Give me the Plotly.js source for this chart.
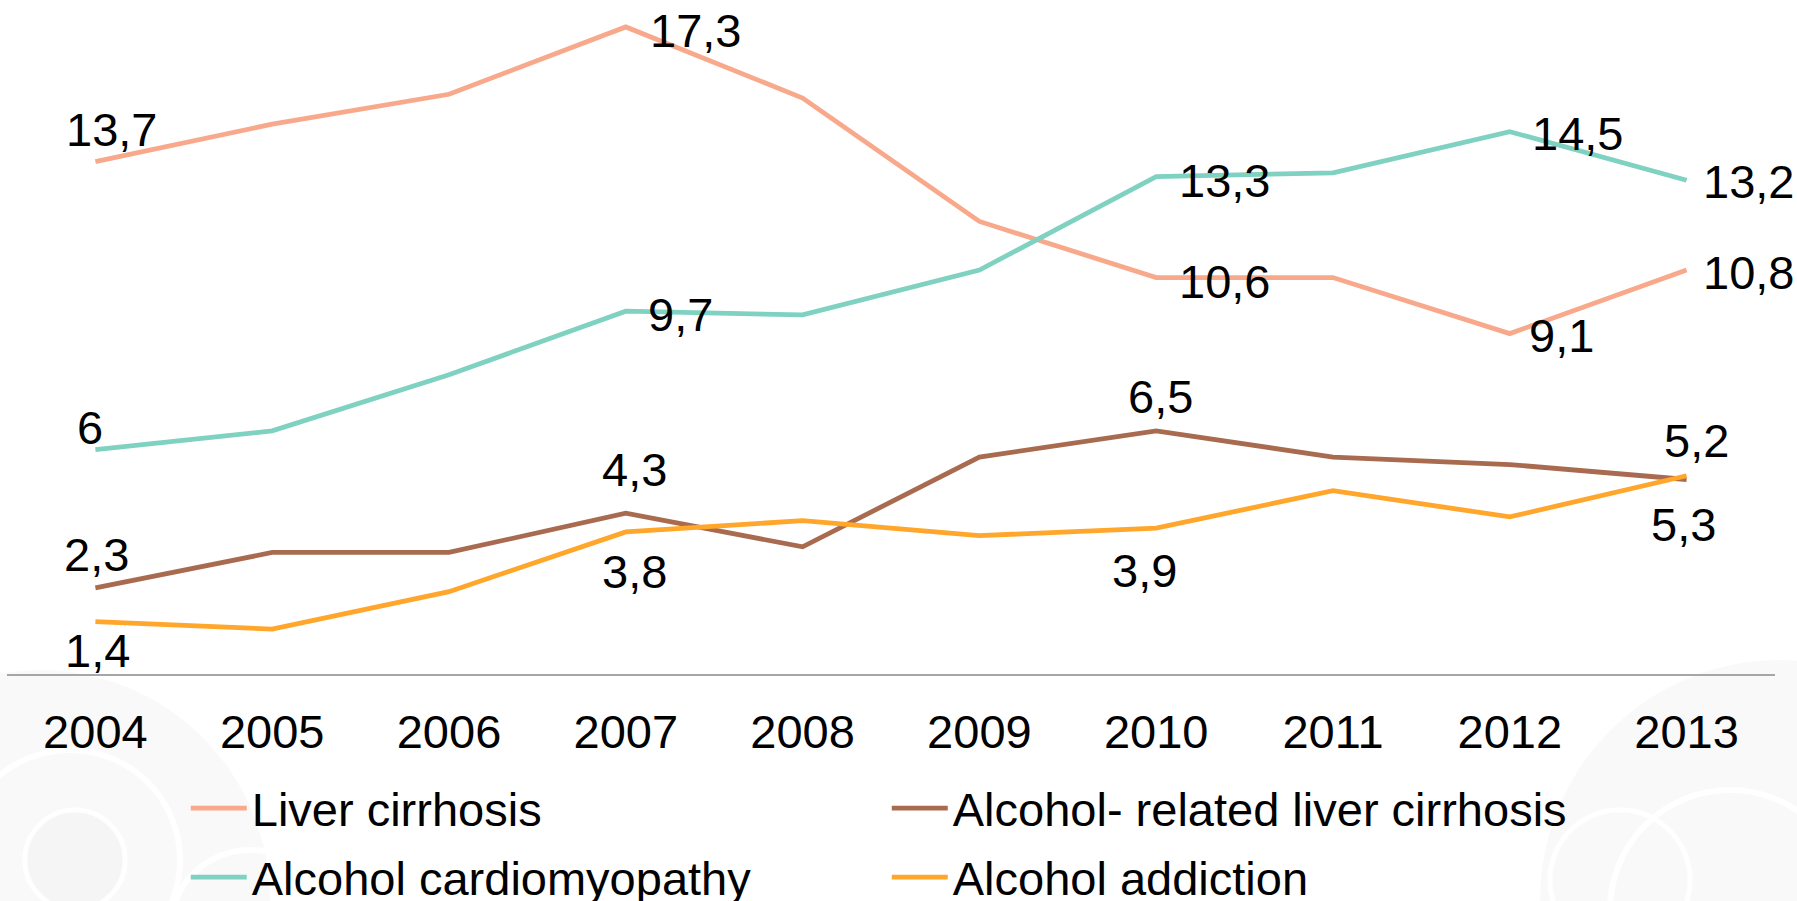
<!DOCTYPE html>
<html>
<head>
<meta charset="utf-8">
<script src="https://cdn.plot.ly/plotly-3.0.1.min.js"></script>
<style>
  html, body { margin: 0; padding: 0; background: #ffffff; }
  #chart { width: 1797px; height: 901px; }
</style>
</head>
<body>
<div id="chart"></div>
<script>
// ---- Data ----
const years = ['2004','2005','2006','2007','2008','2009','2010','2011','2012','2013'];
const liverCirrhosis         = [13.7, 14.7, 15.5, 17.3, 15.4, 12.1, 10.6, 10.6, 9.1, 10.8];
const alcoholLiverCirrhosis  = [2.3, 3.25, 3.25, 4.3, 3.4, 5.8, 6.5, 5.8, 5.6, 5.2];
const alcoholCardiomyopathy  = [6.0, 6.5, 8.0, 9.7, 9.6, 10.8, 13.3, 13.4, 14.5, 13.2];
const alcoholAddiction       = [1.4, 1.2, 2.2, 3.8, 4.1, 3.7, 3.9, 4.9, 4.2, 5.3];
const seriesNames = ['Liver cirrhosis', 'Alcohol- related liver cirrhosis', 'Alcohol cardiomyopathy', 'Alcohol addiction'];
// indices of the points that carry a value label
const liverLabelIdx    = [0, 3, 6, 8, 9];
const alcLiverLabelIdx = [0, 3, 6, 9];
const cardioLabelIdx   = [0, 3, 6, 8, 9];
const addictLabelIdx   = [0, 3, 6, 9];

// ---- Styling / placement (kept apart from the data) ----
const FONT = '"Liberation Sans", Arial, "Helvetica Neue", sans-serif';
const FS = 47;
const colors = ['#F9A98B', '#A86B4F', '#7FD1C1', '#FFA62B'];
// label offsets in px (dx right, dy up) relative to the labelled point, per series, in label order
const labelOffsets = [
  [[16, 32], [70, -4], [68, -3.5], [52, -2], [62, -2]],      // liver cirrhosis
  [[1, 33], [9, 44], [4, 34], [10, 39]],                      // alcohol-related liver cirrhosis
  [[-5, 22], [55, -3], [68, -4], [68, -2], [62, -1]],         // cardiomyopathy
  [[2, -29], [9, -40], [-12, -42], [-3, -49]]                 // addiction
];

const seriesVals = [liverCirrhosis, alcoholLiverCirrhosis, alcoholCardiomyopathy, alcoholAddiction];
const seriesIdx  = [liverLabelIdx, alcLiverLabelIdx, cardioLabelIdx, addictLabelIdx];
const legendOf   = ['legend', 'legend', 'legend2', 'legend2'];

const traces = seriesVals.map((vals, s) => ({
  x: years, y: vals, name: seriesNames[s], type: 'scatter', mode: 'lines',
  line: { color: colors[s], width: 4.8 },
  legend: legendOf[s],
  cliponaxis: false, hoverinfo: 'skip'
}));

const annotations = [];
seriesVals.forEach((vals, s) => {
  seriesIdx[s].forEach((i, k) => {
    const off = labelOffsets[s][k];
    annotations.push({
      x: i, y: vals[i], xref: 'x', yref: 'y',   // x = category position of years[i]
      text: String(vals[i]).replace('.', ','),
      showarrow: false, xanchor: 'center', yanchor: 'middle',
      xshift: off[0], yshift: off[1],
      font: { family: FONT, size: FS, color: '#000000' }
    });
  });
});

// faint decorative swirls in the bottom corners (paper coordinates)
function pxX(px) { return (px - 7) / 1768; }
function pxY(py) { return (674 - py) / 674; }
const swirl = [];
function circ(cx, cy, r, fill, line, w) {
  swirl.push({ type: 'circle', xref: 'paper', yref: 'paper', layer: 'below',
    x0: pxX(cx - r), x1: pxX(cx + r), y0: pxY(cy + r), y1: pxY(cy - r),
    fillcolor: fill, line: { color: line, width: w } });
}
circ(40, 900, 230, 'rgba(0,0,0,0.022)', 'rgba(0,0,0,0)', 0);
circ(70, 860, 110, 'rgba(0,0,0,0.0)', 'rgba(255,255,255,0.9)', 6);
circ(75, 860, 50, 'rgba(0,0,0,0.015)', 'rgba(255,255,255,0.9)', 5);
circ(250, 930, 80, 'rgba(0,0,0,0.0)', 'rgba(255,255,255,0.9)', 6);
circ(1780, 900, 240, 'rgba(0,0,0,0.022)', 'rgba(0,0,0,0)', 0);
circ(1730, 910, 120, 'rgba(0,0,0,0.0)', 'rgba(255,255,255,0.9)', 6);
circ(1620, 880, 70, 'rgba(0,0,0,0.0)', 'rgba(255,255,255,0.9)', 5);

const legendCommon = {
  orientation: 'h', xref: 'paper', yref: 'container', xanchor: 'left', yanchor: 'top',
  entrywidth: 630, entrywidthmode: 'pixels', itemwidth: 56,
  font: { family: FONT, size: FS, color: '#000000' },
  bgcolor: 'rgba(0,0,0,0)', borderwidth: 0
};

const layout = {
  width: 1797, height: 901,
  margin: { l: 7, r: 22, t: 0, b: 227, autoexpand: false },
  paper_bgcolor: '#ffffff', plot_bgcolor: 'rgba(0,0,0,0)',
  font: { family: FONT, size: FS, color: '#000000' },
  showlegend: true,
  xaxis: {
    type: 'category', range: [-0.5, 9.5], fixedrange: true,
    showline: true, linecolor: '#A6A6A6', linewidth: 2,
    showgrid: false, zeroline: false,
    ticks: 'outside', ticklen: 16, tickcolor: 'rgba(0,0,0,0)',
    tickfont: { family: FONT, size: FS, color: '#000000' }
  },
  yaxis: {
    range: [0, 18.02], fixedrange: true,
    showline: false, showgrid: false, zeroline: false, showticklabels: false, ticks: ''
  },
  legend: Object.assign({}, legendCommon, { x: 0.1011, y: 0.1443 }),
  legend2: Object.assign({}, legendCommon, { x: 0.1011, y: 0.0677 }),
  annotations: annotations,
  shapes: swirl
};

Plotly.newPlot('chart', traces, layout, { displayModeBar: false, staticPlot: true });
</script>
</body>
</html>
